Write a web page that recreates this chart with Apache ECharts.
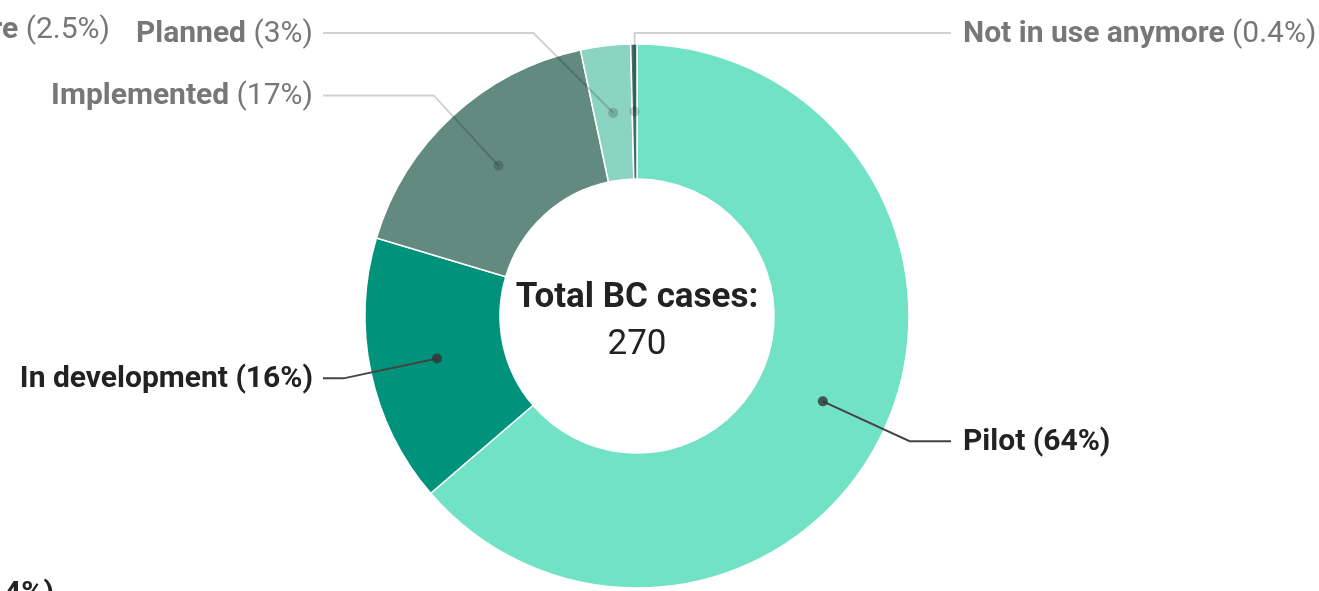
<!DOCTYPE html>
<html>
<head>
<meta charset="utf-8">
<script src="https://cdn.jsdelivr.net/npm/echarts@6/dist/echarts.min.js"></script>
<style>
html, body { margin: 0; padding: 0; background: #fff; }
#chart { width: 1319px; height: 591px; }
</style>
</head>
<body>
<div id="chart"></div>
<script>
// data (total 270 cases)
var stages = ['Pilot', 'In development', 'Implemented', 'Planned', 'Not in use anymore'];
var cases = [172, 43, 46, 8, 1];
var colors = ['#72e2c6', '#00927a', '#628a7e', '#8bd4c2', '#426f63'];
var strong = [true, true, false, false, false];

var total = cases.reduce(function (a, b) { return a + b; }, 0);

// geometry of the donut
var cx = 637, cy = 316, r0 = 137, r1 = 272;
var rMid = (r0 + r1) / 2, rElbow = 300, lineX = 314, topY = cy - 283;

function pct(v) {
    var p = v / total * 100;
    var s = p >= 10 ? String(Math.round(p)) : String(Math.round(p * 10) / 10);
    return s + '%';
}

// middle of each slice, in data units
var mids = [];
var acc = 0;
cases.forEach(function (v) {
    mids.push(acc + v / 2);
    acc += v;
});

// label line: dot in the ring -> elbow -> aligned end
function layoutFor(i) {
    var f = mids[i] / total;
    var a = f * Math.PI * 2;
    var sx = Math.sin(a), sy = -Math.cos(a);
    var p0 = [cx + sx * rMid, cy + sy * rMid];
    var right = f < 0.5 || f > 0.99;
    var p1 = [cx + sx * rElbow, cy + sy * rElbow];
    if (p1[1] < topY) {
        if ((sx >= 0) !== right) {
            p1 = [p0[0], topY];
        } else {
            p1 = [p0[0] + (right ? 1 : -1) * (p0[1] - topY), topY];
        }
    }
    var ex = cx + (right ? lineX : -lineX);
    return {
        x: ex + (right ? 12 : -10),
        y: p1[1] + 1,
        align: right ? 'left' : 'right',
        verticalAlign: 'middle',
        labelLinePoints: [p0, p1, [ex, p1[1]]]
    };
}

var myChart = echarts.init(document.getElementById('chart'));

myChart.setOption({
    backgroundColor: '#fff',
    animation: false,
    textStyle: { fontFamily: 'Roboto' },
    polar: { center: [cx, cy], radius: [0, r1] },
    angleAxis: { type: 'value', min: 0, max: total, startAngle: 90, clockwise: true, show: false },
    radiusAxis: { type: 'value', min: 0, max: r1, show: false },
    graphic: [
        {
            type: 'text', x: cx, y: 298, z: 10,
            style: { text: 'Total BC cases:', font: 'bold 35px Roboto', fill: '#222', align: 'center', verticalAlign: 'middle' }
        },
        {
            type: 'text', x: cx, y: 345, z: 10,
            style: { text: String(total), font: '35px Roboto', fill: '#222', align: 'center', verticalAlign: 'middle' }
        },
        // pieces of neighbouring labels cut by the crop
        {
            type: 'text', x: 110, y: 30,
            style: {
                text: '{b|re }{n|(2.5%)}', align: 'right', verticalAlign: 'middle',
                rich: {
                    b: { font: 'bold 30px Roboto', fill: '#777' },
                    n: { font: '30px Roboto', fill: '#777' }
                }
            }
        },
        {
            type: 'text', x: 4, y: 594,
            style: { text: '4%)', font: 'bold 30px Roboto', fill: '#222', align: 'left', verticalAlign: 'middle' }
        }
    ],
    series: [
        {
            // the ring itself
            type: 'pie',
            z: 2,
            center: [cx, cy],
            radius: [r0, r1],
            startAngle: 90,
            clockwise: true,
            silent: true,
            label: { show: false },
            labelLine: { show: false },
            itemStyle: { borderColor: '#fff', borderWidth: 1.5 },
            data: stages.map(function (s, i) {
                return { name: s, value: cases[i], itemStyle: { color: colors[i] } };
            })
        },
        {
            // same slices, invisible, only to carry labels above the ring
            type: 'pie',
            z: 3,
            center: [cx, cy],
            radius: [r0, r1],
            startAngle: 90,
            clockwise: true,
            silent: true,
            avoidLabelOverlap: false,
            minShowLabelAngle: 0,
            itemStyle: { color: 'rgba(0,0,0,0)', borderWidth: 0 },
            label: {
                show: true,
                position: 'outside',
                overflow: 'none',
                formatter: function (p) {
                    var k = strong[p.dataIndex] ? 's' : 'g';
                    return '{' + k + 'n|' + p.name + ' }{' + k + 'p|(' + pct(p.value) + ')}';
                },
                rich: {
                    sn: { fontSize: 30, fontWeight: 'bold', color: '#222', fontFamily: 'Roboto' },
                    sp: { fontSize: 30, fontWeight: 'bold', color: '#222', fontFamily: 'Roboto' },
                    gn: { fontSize: 30, fontWeight: 'bold', color: '#777', fontFamily: 'Roboto' },
                    gp: { fontSize: 30, fontWeight: 'normal', color: '#777', fontFamily: 'Roboto' }
                }
            },
            labelLine: { show: true, length: 40, length2: 40, smooth: false },
            labelLayout: function (params) {
                return layoutFor(params.dataIndex);
            },
            data: stages.map(function (s, i) {
                return {
                    name: s,
                    value: cases[i],
                    labelLine: {
                        lineStyle: {
                            color: strong[i] ? '#444' : 'rgba(0,0,0,0.18)',
                            width: 2
                        }
                    }
                };
            })
        },
        {
            type: 'scatter',
            coordinateSystem: 'polar',
            symbol: 'circle',
            symbolSize: 10,
            z: 5,
            silent: true,
            data: mids.map(function (m, i) {
                return {
                    value: [rMid, m],
                    itemStyle: { color: strong[i] ? '#333' : 'rgba(0,0,0,0.22)' }
                };
            })
        }
    ]
});
</script>
</body>
</html>
